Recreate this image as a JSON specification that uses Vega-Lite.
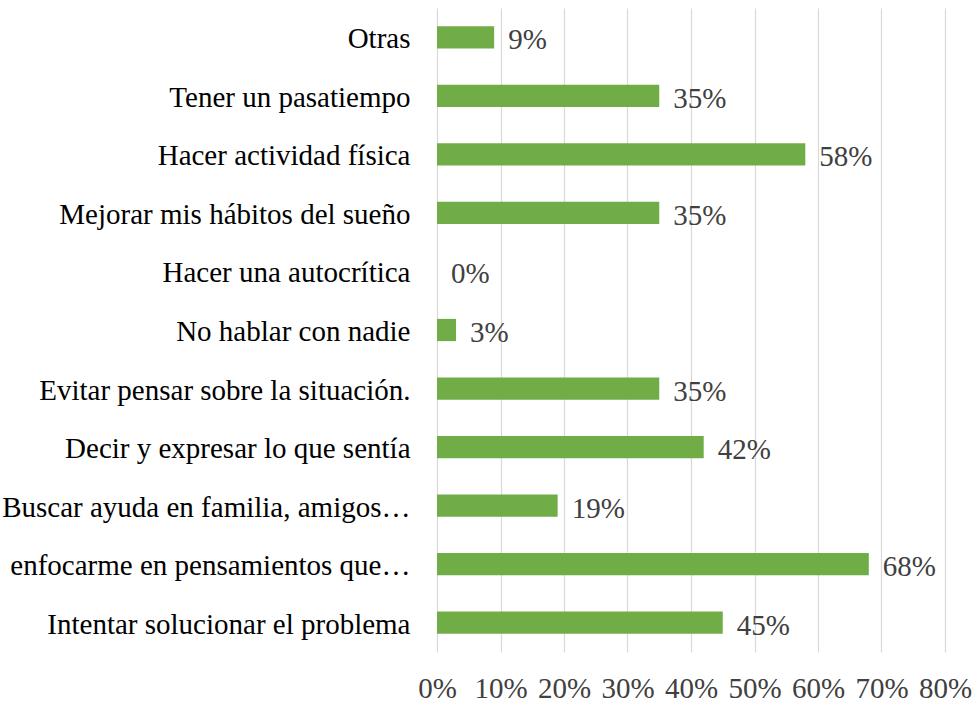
{
  "$schema": "https://vega.github.io/schema/vega-lite/v6.json",
  "autosize": "none",
  "width": 508,
  "height": 644,
  "padding": {"left": 437, "top": 8, "right": 29, "bottom": 52},
  "background": "white",
  "data": {
    "values": [
      {"categoria": "Otras", "valor": 0.09},
      {"categoria": "Tener un pasatiempo", "valor": 0.35},
      {"categoria": "Hacer actividad física", "valor": 0.58},
      {"categoria": "Mejorar mis hábitos del sueño", "valor": 0.35},
      {"categoria": "Hacer una autocrítica", "valor": 0.0},
      {"categoria": "No hablar con nadie", "valor": 0.03},
      {"categoria": "Evitar pensar sobre la situación.", "valor": 0.35},
      {"categoria": "Decir y expresar lo que sentía", "valor": 0.42},
      {"categoria": "Buscar ayuda en familia, amigos…", "valor": 0.19},
      {"categoria": "enfocarme en pensamientos que…", "valor": 0.68},
      {"categoria": "Intentar solucionar el problema", "valor": 0.45}
    ]
  },
  "config": {
    "view": {"stroke": null},
    "font": "Liberation Serif"
  },
  "encoding": {
    "y": {
      "field": "categoria",
      "type": "nominal",
      "sort": null,
      "scale": {"paddingInner": 0.62, "paddingOuter": 0.31},
      "axis": {
        "title": null,
        "domain": false,
        "ticks": false,
        "grid": false,
        "labelFont": "Liberation Serif",
        "labelFontSize": 29,
        "labelColor": "#000000",
        "labelPadding": 27,
        "labelOffset": 2,
        "labelLimit": 0
      }
    },
    "x": {
      "field": "valor",
      "type": "quantitative",
      "scale": {"domain": [0, 0.8], "nice": false},
      "axis": {
        "title": null,
        "values": [0, 0.1, 0.2, 0.3, 0.4, 0.5, 0.6, 0.7, 0.8],
        "format": ".0%",
        "domain": false,
        "ticks": false,
        "grid": true,
        "gridColor": "#d9d9d9",
        "gridWidth": 1.2,
        "labelFont": "Liberation Serif",
        "labelFontSize": 29,
        "labelColor": "#404040",
        "labelPadding": 22,
        "labelFlush": false
      }
    }
  },
  "layer": [
    {"mark": {"type": "bar", "color": "#70AD47"}},
    {
      "mark": {
        "type": "text",
        "align": "left",
        "baseline": "middle",
        "dx": 14,
        "dy": 3,
        "font": "Liberation Serif",
        "fontSize": 29,
        "color": "#404040"
      },
      "encoding": {
        "text": {"field": "valor", "type": "quantitative", "format": ".0%"}
      }
    }
  ]
}
